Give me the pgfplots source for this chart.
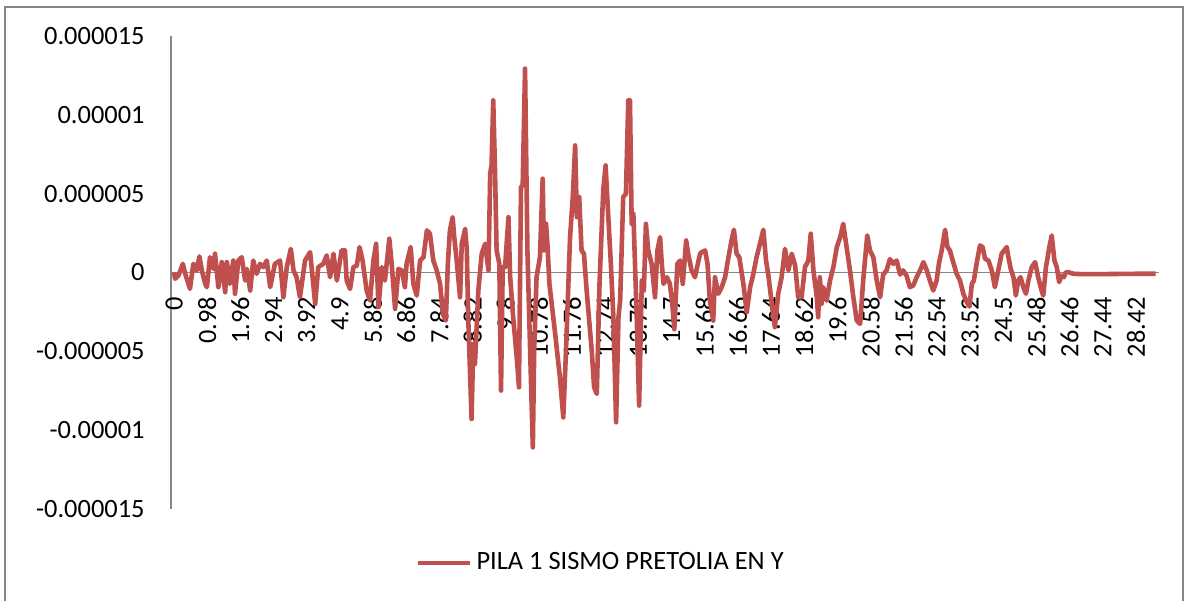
\documentclass[border=0pt]{standalone}
\usepackage{pgfplots}
\pgfplotsset{compat=1.18}
\usepackage{fontspec}
\setmainfont{Carlito}
\definecolor{serie}{HTML}{C0504D}
\definecolor{axisgray}{HTML}{868686}
\pgfplotsset{
  layers/labelsbehind/.define layer set={axis background,axis grid,axis ticks,axis tick labels,axis lines,main,axis descriptions,axis foreground}{},
}
\begin{document}
\begin{tikzpicture}[x=0.5pt,y=0.5pt]
\begin{axis}[
  set layers=labelsbehind,
  at={(85.5pt,45.5pt)}, anchor=south west,
  scale only axis, width=494pt, height=236.5pt,
  xmin=-0.09, xmax=29.1, ymin=-15, ymax=15,
  axis x line=middle, axis y line=left,
  axis line style={draw=axisgray, line width=0.75pt, -},
  hide obscured x ticks=false, hide obscured y ticks=false,
  xtick={0,0.98,1.96,2.94,3.92,4.9,5.88,6.86,7.84,8.82,9.8,10.78,11.76,12.74,13.72,14.7,15.68,16.66,17.64,18.62,19.6,20.58,21.56,22.54,23.52,24.5,25.48,26.46,27.44,28.42},
  xticklabels={0,0.98,1.96,2.94,3.92,4.9,5.88,6.86,7.84,8.82,9.8,10.78,11.76,12.74,13.72,14.7,15.68,16.66,17.64,18.62,19.6,20.58,21.56,22.54,23.52,24.5,25.48,26.46,27.44,28.42},
  ytick={-15,-10,-5,0,5,10,15},
  yticklabels={-0.000015,-0.00001,-0.000005,0,0.000005,0.00001,0.000015},
  major tick length=0pt,
  tick label style={font=\fontsize{13.2}{15}\selectfont, text=black},
  xticklabel style={rotate=90, anchor=east},
  xticklabel shift=8.7pt,
  yticklabel style={anchor=east},
  yticklabel shift=9.7pt,
  legend style={at={(0.436,-0.114)}, anchor=center, draw=none, fill=none, font=\fontsize{13.2}{15}\selectfont},
  legend cell align=left,
  legend image code/.code={\draw[#1] (0pt,0pt) -- (26pt,0pt);},
]
\addplot[serie, line width=2.3pt, line join=round, no marks] coordinates {
(0,0) (0.03,-0.40) (0.13,-0.19) (0.26,0.55) (0.33,-0.08) (0.47,-1.04) (0.57,0.55) (0.67,0.13) (0.75,1.02) (0.82,0.13)
(0.92,-0.72) (0.97,-0.93) (1.06,0.97) (1.16,0.23) (1.21,1.19) (1.31,-0.93) (1.41,0.66) (1.51,-1.25) (1.56,0.66) (1.65,-0.72)
(1.75,0.76) (1.80,-1.35) (1.90,0.76) (2.00,0.97) (2.10,-0.51) (2.15,0.23) (2.25,-1.14) (2.34,0.76) (2.44,-0.08) (2.54,0.55)
(2.64,0.34) (2.74,0.76) (2.84,-0.93) (2.98,0.55) (3.13,0.76) (3.23,-1.57) (3.33,0.34) (3.45,1.50) (3.53,0.13) (3.62,-0.30)
(3.72,-1.57) (3.87,0.76) (4.02,1.29) (4.17,-1.99) (4.26,0.34) (4.41,0.55) (4.51,1.08) (4.61,-0.30) (4.71,1.19) (4.81,-0.51)
(4.95,1.40) (5.05,1.40) (5.10,-0.51) (5.20,-1.04) (5.30,0.34) (5.40,0.44) (5.48,1.61) (5.57,0.76) (5.69,-1.14) (5.79,-1.78)
(5.89,0.76) (5.97,1.82) (6.04,-2.20) (6.14,0.34) (6.23,-0.51) (6.36,2.14) (6.43,0.55) (6.53,-2.31) (6.63,0.23) (6.73,0.13)
(6.82,-0.93) (6.87,0.55) (6.99,1.61) (7.07,-0.72) (7.17,-1.46) (7.27,0.76) (7.37,0.97) (7.47,2.67) (7.56,2.46) (7.66,0.76)
(7.76,0.13) (7.86,-0.72) (7.94,-2.62) (8.03,-3.05) (8.09,0.6) (8.15,2.67) (8.23,3.51) (8.28,2.2) (8.35,0.76) (8.45,-1.57)
(8.50,1.82) (8.60,2.77) (8.65,1.40) (8.69,-2.84) (8.79,-9.29) (8.84,-4.53) (8.89,-5.80) (8.99,-1.14) (9.09,1.19) (9.19,1.82)
(9.29,0.13) (9.34,6.27) (9.38,6.79) (9.43,10.92) (9.48,6.69) (9.53,1.40) (9.61,0.55) (9.66,-7.49) (9.71,0.34) (9.78,0.34)
(9.88,3.51) (9.93,-0.30) (10.02,-2.84) (10.14,-5.80) (10.19,-7.28) (10.25,5.42) (10.30,5.52) (10.37,12.93) (10.44,1.40) (10.52,-4.95)
(10.60,-11.09) (10.64,-4.95) (10.71,-0.30) (10.81,0.97) (10.89,5.95) (10.93,1.40) (10.99,3.09) (11.03,1.82) (11.09,-0.72) (11.26,-3.89)
(11.40,-6.65) (11.50,-9.19) (11.58,-4.95) (11.65,-0.72) (11.70,2.24) (11.78,4.78) (11.85,8.06) (11.90,3.51) (11.97,4.78) (12.04,1.40)
(12.11,1.19) (12.19,-1.14) (12.34,-4.95) (12.41,-7.28) (12.49,-7.70) (12.57,-0.72) (12.68,5.21) (12.75,6.79) (12.83,3.51) (12.90,0.76)
(12.98,-2.84) (13.06,-9.50) (13.13,-2.84) (13.18,-1.78) (13.27,4.78) (13.35,4.99) (13.42,10.92) (13.47,10.92) (13.52,3.09) (13.57,3.72)
(13.67,-2.84) (13.74,-8.44) (13.82,-0.51) (13.88,-1.14) (13.94,3.09) (14.01,1.40) (14.11,0.55) (14.21,-1.57) (14.28,1.40) (14.36,2.24)
(14.41,0.55) (14.46,-0.72) (14.56,-0.30) (14.65,-0.72) (14.72,-1.99) (14.78,-3.6) (14.87,0.55) (14.95,0.76) (15.03,-0.72) (15.13,2.03)
(15.19,1.19) (15.29,0.13) (15.39,-0.30) (15.54,1.19) (15.59,1.29) (15.69,1.40) (15.76,0.55) (15.83,-1.78) (15.93,-3.05) (15.98,-0.30)
(16.08,-1.35) (16.18,-0.93) (16.28,-0.30) (16.38,0.97) (16.47,2.03) (16.54,2.71) (16.62,1.19) (16.70,0.97) (16.82,-0.72) (16.92,-2.52)
(17.02,-0.93) (17.11,-0.13) (17.21,0.97) (17.31,1.82) (17.41,2.71) (17.49,0.76) (17.56,-0.19) (17.66,-1.99) (17.75,-3.47) (17.85,-1.35)
(17.95,-0.30) (18.05,1.50) (18.15,0.13) (18.25,1.19) (18.35,0.44) (18.44,-1.57) (18.54,-1.57) (18.64,0.34) (18.74,0.76) (18.81,2.46)
(18.89,0.13) (18.99,-1.57) (19.03,-2.84) (19.08,-0.30) (19.13,-1.99) (19.18,-0.93) (19.28,-1.78) (19.38,-0.51) (19.48,0.34) (19.58,1.61)
(19.68,2.24) (19.77,3.09) (19.87,1.61) (19.97,0.13) (20.07,-1.57) (20.17,-3.05) (20.27,-3.26) (20.36,-0.51) (20.48,2.35) (20.56,1.40)
(20.66,0.97) (20.76,-0.51) (20.86,-1.57) (20.95,-0.13) (21.05,0.13) (21.15,0.85) (21.25,0.55) (21.35,0.76) (21.45,-0.13) (21.54,0.13)
(21.64,-0.19) (21.74,-0.93) (21.84,-0.82) (21.94,-0.30) (22.04,0.13) (22.14,0.66) (22.24,0.13) (22.33,-0.51) (22.43,-1.14) (22.53,-0.51)
(22.60,0.6) (22.68,1.4) (22.78,2.71) (22.85,1.61) (22.92,1.40) (23.02,0.66) (23.12,-0.08) (23.22,-0.51) (23.32,-1.35) (23.42,-1.88)
(23.50,-2.16) (23.57,-0.72) (23.63,-0.51) (23.71,0.55) (23.81,1.72) (23.89,1.61) (23.96,0.87) (24.06,0.76) (24.16,0.13) (24.25,-0.93)
(24.35,0.13) (24.45,1.19) (24.60,1.61) (24.65,0.97) (24.72,0.23) (24.80,-0.30) (24.87,-1.46) (24.94,-0.51) (25.01,-0.30) (25.09,-0.93)
(25.17,-1.35) (25.24,-0.51) (25.34,0.34) (25.44,0.66) (25.53,-0.30) (25.63,-1.14) (25.68,-1.46) (25.76,0.34) (25.86,1.61) (25.93,2.35)
(26.01,0.76) (26.08,0.34) (26.15,-0.61) (26.22,-0.19) (26.29,-0.30) (26.35,0.02) (26.42,0.02) (26.57,-0.08) (26.77,-0.10) (27.5,-0.10)
(28.5,-0.08) (29.0,-0.08)
};
\legend{PILA 1 SISMO PRETOLIA EN Y}
\end{axis}
\pgfresetboundingbox
\useasboundingbox (0,0) rectangle (1186,600);
\draw[axisgray, line width=0.75pt] (5,-20) -- (5,593) -- (1183,593) -- (1183,-20);
\end{tikzpicture}
\end{document}
